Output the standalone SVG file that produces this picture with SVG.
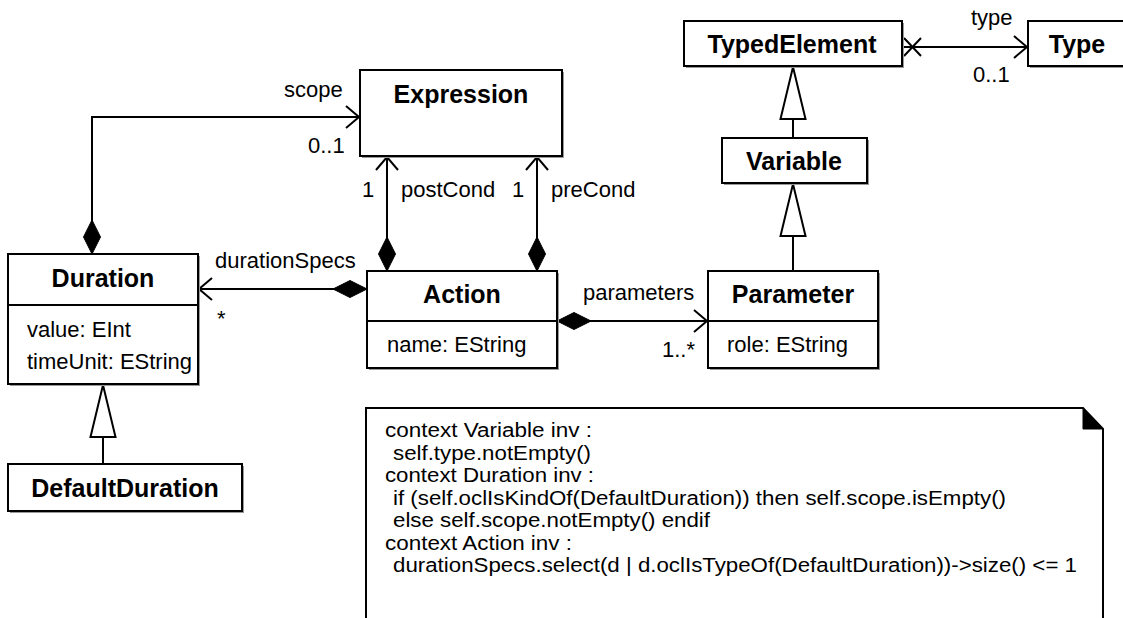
<svg xmlns="http://www.w3.org/2000/svg" width="1123" height="618" viewBox="0 0 1123 618">
<defs>
<style>
text{font-family:"Liberation Sans",Arial,Helvetica,sans-serif;fill:#000}
.t{font-size:25px;font-weight:bold;text-anchor:middle}
.a{font-size:22px}
.l{font-size:22px}
.n{font-size:20px}
.box{fill:#fff;stroke:#000;stroke-width:2}
.sh{fill:#999}
.div{stroke:#000;stroke-width:2}
.c{fill:none;stroke:#000;stroke-width:2}
</style>
<marker id="open" markerUnits="userSpaceOnUse" viewBox="-15 -13 17 26" markerWidth="17" markerHeight="26" refX="0" refY="0" orient="auto" overflow="visible">
<path d="M-13,-11 L0,0 L-13,11" fill="none" stroke="#000" stroke-width="2"/>
</marker>
<marker id="dia" markerUnits="userSpaceOnUse" viewBox="-1 -10 37 20" markerWidth="37" markerHeight="20" refX="0" refY="0" orient="auto" overflow="visible">
<path d="M0,0 L17,-8.5 L34,0 L17,8.5 Z" fill="#000" stroke="#000" stroke-width="1"/>
</marker>
<marker id="gen" markerUnits="userSpaceOnUse" viewBox="-54 -15 56 30" markerWidth="56" markerHeight="30" refX="0" refY="0" orient="auto" overflow="visible">
<path d="M0,0 L-52,-12.5 L-52,12.5 Z" fill="#fff" stroke="#000" stroke-width="2"/>
</marker>
</defs>
<rect width="1123" height="618" fill="#fff"/>

<g id="connectors">
<path class="c" d="M92,254 V117 H359" marker-start="url(#dia)" marker-end="url(#open)"/>
<path class="c" d="M387,271 V157" marker-start="url(#dia)" marker-end="url(#open)"/>
<path class="c" d="M537,271 V157" marker-start="url(#dia)" marker-end="url(#open)"/>
<path class="c" d="M367,289 H199" marker-start="url(#dia)" marker-end="url(#open)"/>
<path class="c" d="M557,321 H707" marker-start="url(#dia)" marker-end="url(#open)"/>
<path class="c" d="M902,47 H1027" marker-end="url(#open)"/>
<path class="c" d="M904,38 L921,56 M904,56 L921,38"/>
<path class="c" d="M793,138 V67" marker-end="url(#gen)"/>
<path class="c" d="M793,271 V184" marker-end="url(#gen)"/>
<path class="c" d="M103,464 V385" marker-end="url(#gen)"/>
<text class="l" x="284" y="97">scope</text>
<text class="l" x="308" y="153">0..1</text>
<text class="l" x="362" y="197">1</text>
<text class="l" x="401" y="197">postCond</text>
<text class="l" x="512" y="197">1</text>
<text class="l" x="551" y="197">preCond</text>
<text class="l" x="215" y="268">durationSpecs</text>
<text class="l" x="217" y="326">*</text>
<text class="l" x="583" y="300">parameters</text>
<text class="l" x="662" y="357">1..*</text>
<text class="l" x="971" y="25">type</text>
<text class="l" x="973" y="82">0..1</text>
</g>

<g id="Expression">
<rect class="sh" x="362" y="72" width="202" height="86"/>
<rect class="box" x="360" y="70" width="202" height="86"/>
<text class="t" x="461" y="103">Expression</text>
</g>

<g id="Duration">
<rect class="sh" x="10" y="256" width="190" height="130"/>
<rect class="box" x="8" y="254" width="190" height="130"/>
<line class="div" x1="8" y1="305" x2="198" y2="305"/>
<text class="t" x="103" y="287">Duration</text>
<text class="a" x="27" y="337">value: EInt</text>
<text class="a" x="27" y="369">timeUnit: EString</text>
</g>

<g id="DefaultDuration">
<rect class="sh" x="10" y="466" width="234" height="47"/>
<rect class="box" x="8" y="464" width="234" height="47"/>
<text class="t" x="125" y="497">DefaultDuration</text>
</g>

<g id="Action">
<rect class="sh" x="369" y="273" width="190" height="97"/>
<rect class="box" x="367" y="271" width="190" height="97"/>
<line class="div" x1="367" y1="321" x2="557" y2="321"/>
<text class="t" x="462" y="303">Action</text>
<text class="a" x="387" y="352">name: EString</text>
</g>

<g id="Parameter">
<rect class="sh" x="710" y="273" width="170" height="97"/>
<rect class="box" x="708" y="271" width="170" height="97"/>
<line class="div" x1="708" y1="321" x2="878" y2="321"/>
<text class="t" x="793" y="303">Parameter</text>
<text class="a" x="727" y="352">role: EString</text>
</g>

<g id="TypedElement">
<rect class="sh" x="686" y="23" width="218" height="45"/>
<rect class="box" x="684" y="21" width="218" height="45"/>
<text class="t" x="792" y="53">TypedElement</text>
</g>

<g id="Type">
<rect class="sh" x="1030" y="23" width="110" height="45"/>
<rect class="box" x="1028" y="21" width="110" height="45"/>
<text class="t" x="1077" y="53">Type</text>
</g>

<g id="Variable">
<rect class="sh" x="724" y="140" width="145" height="45"/>
<rect class="box" x="722" y="138" width="145" height="45"/>
<text class="t" x="794" y="170">Variable</text>
</g>

<g id="Note">
<path d="M366,408 H1083 L1103,429 V640 H366 Z" fill="#fff" stroke="#000" stroke-width="2"/>
<path d="M1083,408 L1083,429 L1103,429 Z" fill="#000" stroke="#000" stroke-width="1"/>
<text class="n" x="385" y="437" textLength="207" lengthAdjust="spacingAndGlyphs">context Variable inv :</text>
<text class="n" x="393" y="459.5" textLength="198" lengthAdjust="spacingAndGlyphs">self.type.notEmpty()</text>
<text class="n" x="385" y="482" textLength="209" lengthAdjust="spacingAndGlyphs">context Duration inv :</text>
<text class="n" x="393" y="504.5" textLength="613" lengthAdjust="spacingAndGlyphs">if (self.oclIsKindOf(DefaultDuration)) then self.scope.isEmpty()</text>
<text class="n" x="393" y="527" textLength="317" lengthAdjust="spacingAndGlyphs">else self.scope.notEmpty() endif</text>
<text class="n" x="385" y="549.5" textLength="187" lengthAdjust="spacingAndGlyphs">context Action inv :</text>
<text class="n" x="393" y="572" textLength="684" lengthAdjust="spacingAndGlyphs">durationSpecs.select(d | d.oclIsTypeOf(DefaultDuration))-&gt;size() &lt;= 1</text>
</g>
</svg>
